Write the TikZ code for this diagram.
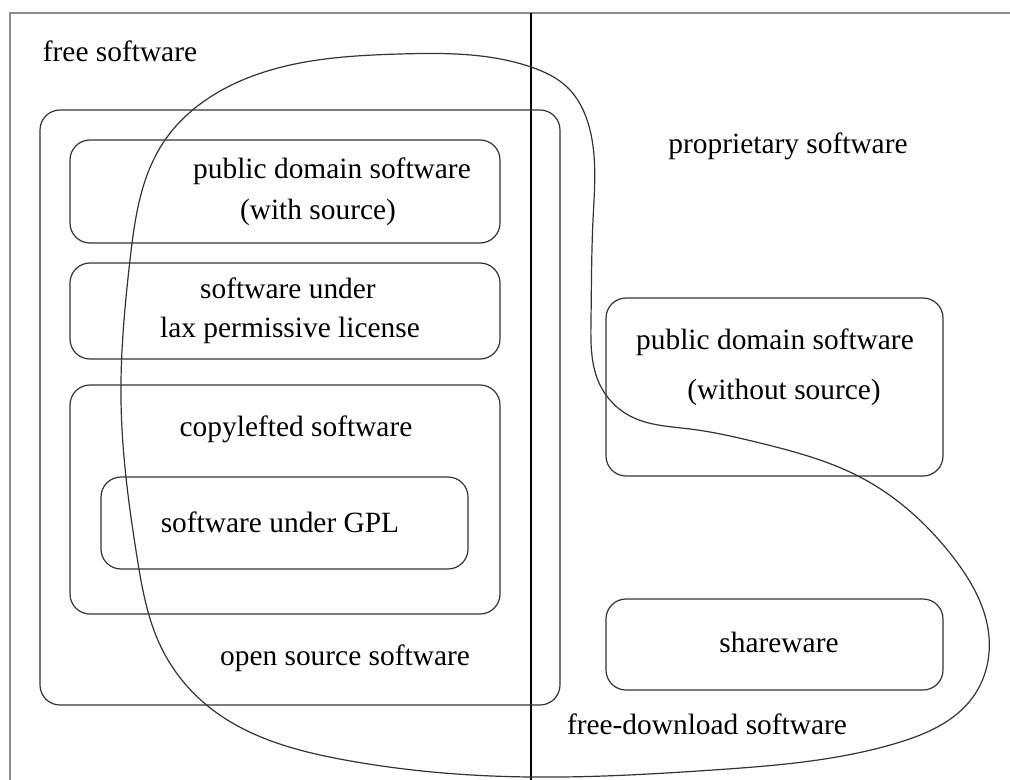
\documentclass[tikz,border=0pt]{standalone}
\usepackage{fontspec}
\setmainfont{Liberation Serif}
\usetikzlibrary{positioning}
\usetikzlibrary{hobby}

\begin{document}
\begin{tikzpicture}[x=0.5pt, y=-0.5pt,
		box/.style={draw=black!80, line width=0.6pt, rounded corners=10pt},
		lbl/.style={font=\fontsize{14.7pt}{17pt}\selectfont, anchor=base, inner sep=0pt},
		frame/.style={draw=black!45, line width=1pt},
	]
		\useasboundingbox (0,0) rectangle (1010,780);

		\draw[frame] (10,780) -- (10,13) -- (1010,13);
		\draw[line width=0.6pt] (531,13) -- (531,780);

		% free / open source side
		\draw[box] (40,110) rectangle (560,705);
		\draw[box] (70,140) rectangle (500,243);
		\draw[box] (70,263) rectangle (500,359);
		\draw[box] (70,385) rectangle (500,614);
		\draw[box] (101,477) rectangle (468,569);

		% proprietary side
		\draw[box] (606,298) rectangle (943,476);
		\draw[box] (606,599) rectangle (943,690);

		% free-download loop
		\draw[line width=0.6pt, draw=black!80] plot[closed hobby] coordinates {
			(400,54) (531,67) (567,87) (590,130) (593,220) (591,320) (600,385)
			(630,416) (690,429) (760,443) (860,477) (953,557) (989,637) (973,697)
			(897,743) (713,770) (530,777) (345,760) (209,707) (161,647) (137,557)
			(121,400) (130,260) (163,143) (250,77)};

		\node[lbl] (free) at (120,62) {free software};
		\node[lbl] (prop) at (788,154) {proprietary software};
		\node[lbl] (pdsrc) at (332,179) {public domain software};
		\node[lbl] (pdsrc2) at (318,220) {(with source)};
		\node[lbl] (lax) at (288,299) {software under};
		\node[lbl] (lax2) at (290,337) {lax permissive license};
		\node[lbl] (copyleft) at (296,436) {copylefted software};
		\node[lbl] (gpl) at (280,532) {software under GPL};
		\node[lbl] (oss) at (345,665) {open source software};
		\node[lbl] (pdnosrc) at (775,349) {public domain software};
		\node[lbl] (pdnosrc2) at (784,399) {(without source)};
		\node[lbl] (share) at (779,652) {shareware};
		\node[lbl] (download) at (707,734) {free-download software};
	\end{tikzpicture}
\end{document}
